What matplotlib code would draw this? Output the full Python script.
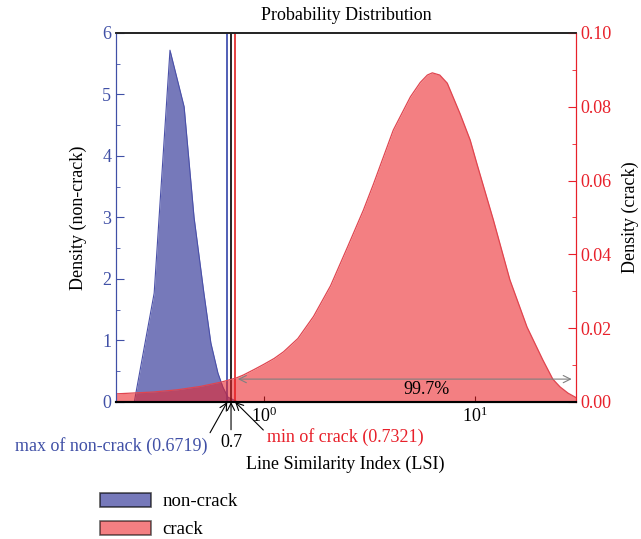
import matplotlib
matplotlib.use("Agg")
import matplotlib.pyplot as plt
from matplotlib.patches import Patch
from matplotlib.ticker import MultipleLocator, LogLocator, NullLocator, FormatStrFormatter

plt.rcParams['font.family'] = ['Liberation Serif', 'DejaVu Serif']
plt.rcParams['mathtext.fontset'] = 'stix'
plt.rcParams['font.size'] = 13

# non-crack density (left axis)
lsi_noncrack = [0.244, 0.303, 0.360, 0.420, 0.468, 0.521, 0.562, 0.607, 0.641, 0.676, 0.754]
dens_noncrack = [0.0, 1.77, 5.72, 4.8, 3.0, 1.77, 0.96, 0.47, 0.24, 0.08, 0.0]

# crack density (right axis)
lsi_crack = [0.2, 0.3, 0.39, 0.5, 0.63, 0.74, 0.8, 0.9, 1.0, 1.12, 1.24, 1.45, 1.72,
             2.07, 2.49, 2.96, 3.3, 4.1, 4.94, 5.5, 5.94, 6.27, 6.8, 7.38, 8.5, 9.47,
             10.2, 12.2, 14.6, 17.6, 20.9, 23.3, 25.2, 27.5, 30.0]
dens_crack = [0.0022, 0.0027, 0.0033, 0.0042, 0.0054, 0.0065, 0.0073, 0.0088, 0.0102,
              0.0118, 0.0136, 0.0172, 0.0232, 0.0315, 0.042, 0.052, 0.059, 0.0737,
              0.0827, 0.0866, 0.0886, 0.0892, 0.0886, 0.0864, 0.078, 0.071, 0.0645,
              0.0493, 0.0331, 0.0203, 0.0114, 0.0062, 0.0041, 0.0024, 0.0012]

max_noncrack = 0.6719
min_crack = 0.7321
threshold = 0.7
arrow_y = 0.0062
pct_text = "99.7%"

blue = '#2d3296'
blue_txt = '#4050a6'
red = '#eb2328'
red_txt = '#e8202a'

fig = plt.figure(figsize=(6.41, 5.39), dpi=100)
ax = fig.add_axes([0.181, 0.2542, 0.7176, 0.6846])
ax2 = ax.twinx()

ax.fill_between(lsi_noncrack, dens_noncrack, color=blue, alpha=0.65, lw=0)
ax.plot(lsi_noncrack, dens_noncrack, color='#4a50a8', lw=0.8)
ax2.fill_between(lsi_crack, dens_crack, color=red, alpha=0.58, lw=0)
ax2.plot(lsi_crack, dens_crack, color='#e0454f', lw=0.9)

ax.set_xscale('log')
ax.set_xlim(0.2, 30)
ax.set_ylim(0, 6)
ax2.set_ylim(0, 0.10)

ax.axvline(max_noncrack, color='#3344aa', lw=1.2)
ax.axvline(threshold, color='black', lw=1.2)
ax.axvline(min_crack, color='#e02020', lw=1.2)

ax2.annotate('', xy=(29.5, arrow_y), xytext=(min_crack, arrow_y),
             arrowprops=dict(arrowstyle='<->', color='#808080', lw=0.8))
ax2.text(5.9, 0.0033, pct_text, ha='center', va='center', fontsize=13)

# ticks and spines
ax.xaxis.set_major_locator(LogLocator(base=10, numticks=5))
ax.xaxis.set_minor_locator(NullLocator())
ax.yaxis.set_major_locator(MultipleLocator(1))
ax.yaxis.set_minor_locator(MultipleLocator(0.5))
ax2.yaxis.set_major_locator(MultipleLocator(0.02))
ax2.yaxis.set_minor_locator(MultipleLocator(0.01))
ax2.yaxis.set_major_formatter(FormatStrFormatter('%.2f'))

ax.tick_params(axis='x', direction='in', length=4, pad=3, labelsize=13)
ax.tick_params(axis='y', which='major', direction='in', length=6, colors=blue_txt, labelsize=13)
ax.tick_params(axis='y', which='minor', direction='in', length=3, colors=blue_txt)
ax2.tick_params(axis='y', which='major', direction='in', length=6, colors=red_txt, labelsize=13)
ax2.tick_params(axis='y', which='minor', direction='in', length=3, colors=red_txt)

for a in (ax, ax2):
    a.spines['left'].set_color(blue_txt)
    a.spines['right'].set_color(red_txt)
    a.spines['top'].set_color('#222222')
    a.spines['bottom'].set_color('black')
    a.spines['bottom'].set_linewidth(1.5)
    a.spines['top'].set_linewidth(1.2)

ax.set_title('Probability Distribution', fontsize=13, pad=9)
ax.set_ylabel('Density (non-crack)', fontsize=13, labelpad=11)
ax2.set_ylabel('Density (crack)', fontsize=13, labelpad=7)
ax.set_xlabel('Line Similarity Index (LSI)', fontsize=13)
ax.xaxis.set_label_coords(0.498, -0.145)

# annotations below the axis
def ap(rp):
    return dict(arrowstyle='->', color='black', lw=0.8, shrinkA=1, shrinkB=0, relpos=rp)

ax.annotate('max of non-crack (0.6719)', xy=(max_noncrack, 0), xycoords=('data', 'axes fraction'),
            xytext=(-14, -25), textcoords='offset points', ha='right', va='top',
            color=blue_txt, fontsize=13, arrowprops=ap((1.0, 1.0)))
ax.annotate('0.7', xy=(threshold, 0), xycoords=('data', 'axes fraction'),
            xytext=(0, -23), textcoords='offset points', ha='center', va='top',
            color='black', fontsize=13, arrowprops=ap((0.5, 1.0)))
ax.annotate('min of crack (0.7321)', xy=(min_crack, 0), xycoords=('data', 'axes fraction'),
            xytext=(23, -19), textcoords='offset points', ha='left', va='top',
            color=red_txt, fontsize=13, arrowprops=ap((0.0, 0.7)))

handles = [Patch(facecolor=blue, alpha=0.65, edgecolor='black', label='non-crack'),
           Patch(facecolor=red, alpha=0.58, edgecolor='black', label='crack')]
leg = fig.legend(handles=handles, loc='upper left', bbox_to_anchor=(0.145, 0.10), frameon=False,
                 handlelength=2.7, handleheight=0.8, handletextpad=0.6, labelspacing=0.55,
                 fontsize=13.5, borderaxespad=0)
for h in leg.legend_handles:
    h.set_edgecolor('black')
    h.set_linewidth(1.2)

fig.savefig('out.png', dpi=100)
